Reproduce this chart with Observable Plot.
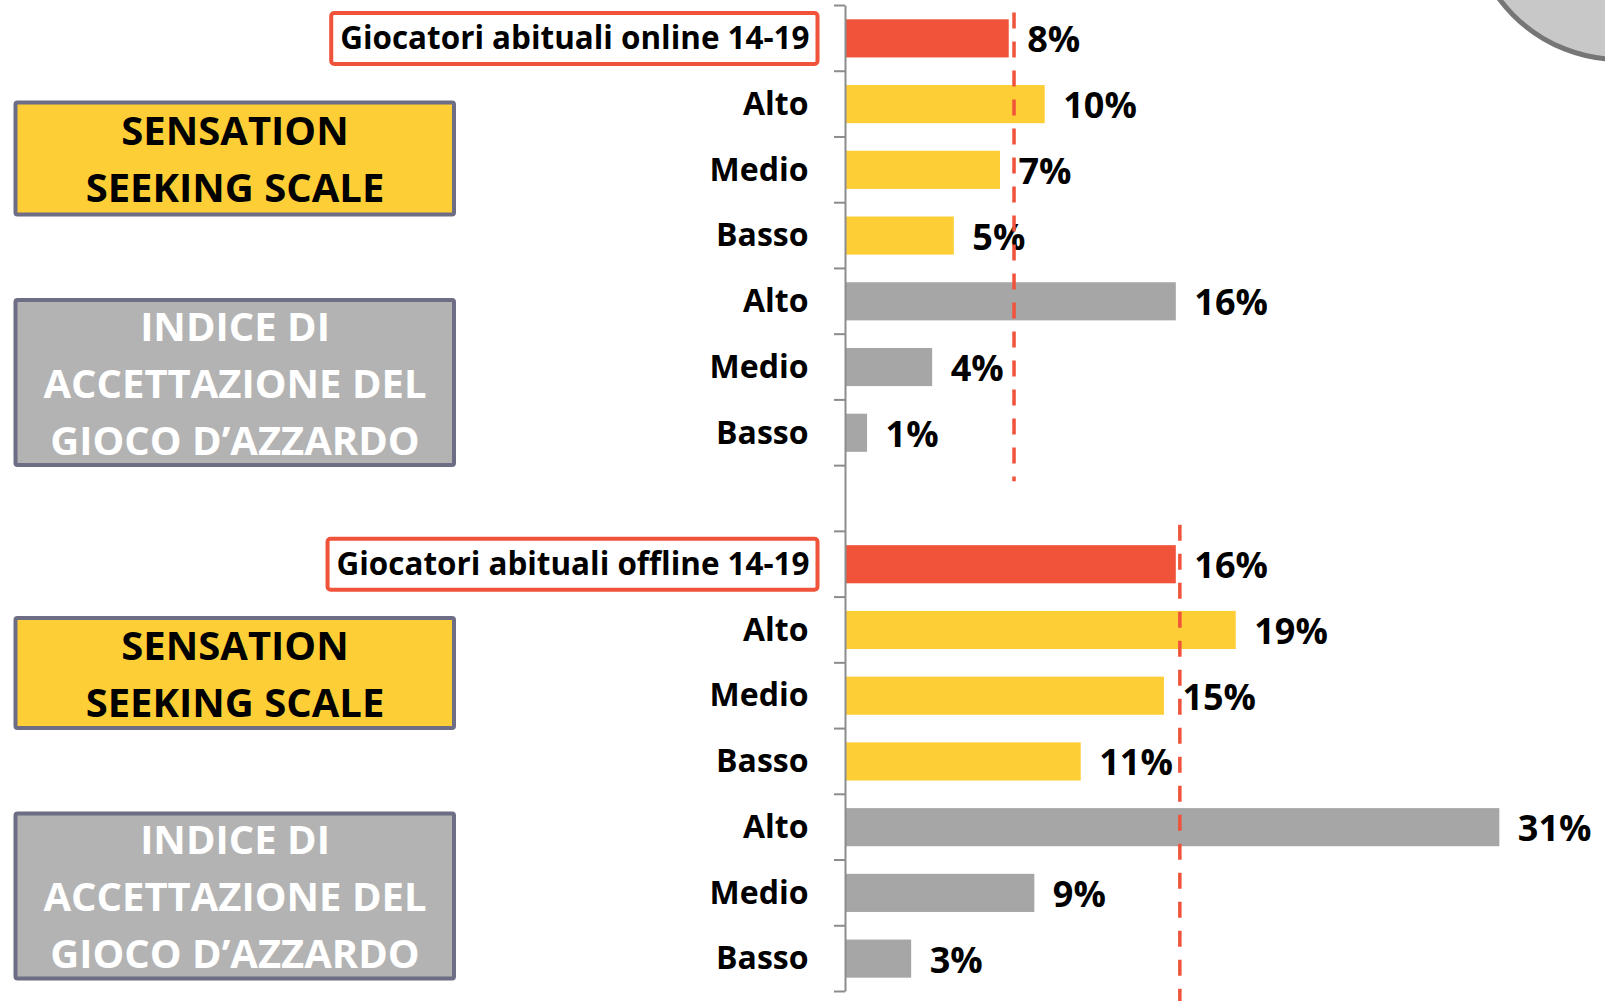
<!DOCTYPE html>
<html><head><meta charset="utf-8">
<script src="https://cdn.jsdelivr.net/npm/d3@7"></script>
<script src="https://cdn.jsdelivr.net/npm/@observablehq/plot@0.6"></script>
<style>
html,body{margin:0;padding:0;background:#fff;overflow:hidden;}
#wrap{position:relative;width:1605px;height:1001px;}
#chart svg{display:block;}
#deco{position:absolute;left:1467px;top:-244px;width:306px;height:306px;border-radius:50%;background:#c8c8c8;border:5px solid #767676;box-sizing:border-box;}
</style></head><body><div id="wrap"><div id="chart"></div><div id="deco"></div></div>
<script>
// ---- data ----
const levels = ["Alto", "Medio", "Basso"];
const groupTitles = ["Giocatori abituali online 14-19", "Giocatori abituali offline 14-19"];
const sensationLines = ["SENSATION", "SEEKING SCALE"];
const acceptanceLines = ["INDICE DI", "ACCETTAZIONE DEL", "GIOCO D’AZZARDO"];
const totals = [7.87, 15.9];
const sensation = [[9.6, 7.45, 5.23], [18.78, 15.33, 11.33]];
const acceptance = [[15.9, 4.19, 1.06], [31.45, 9.1, 3.18]];
const referenceLines = [8.1, 16.07];

// ---- styles ----
const RED = "#f0533a", YELLOW = "#fece36", GRAY = "#a6a6a6";
const BOX_GRAY = "#b3b3b3", BOX_BORDER = "#6d6d86", AXIS = "#8c8c8c";
const FONT = "'Open Sans', 'Noto Sans', sans-serif";

// ---- build rows ----
const rows = [];
const domain = [];
[0, 1].forEach(g => {
  if (g === 1) domain.push("gap");
  const push = r => { rows.push(r); domain.push(r.id); };
  push({id: `g${g}-tot`, group: g, label: groupTitles[g], value: totals[g], kind: "total"});
  levels.forEach((l, i) => push({id: `g${g}-ss-${i}`, group: g, label: l, value: sensation[g][i], kind: "ss"}));
  levels.forEach((l, i) => push({id: `g${g}-ia-${i}`, group: g, label: l, value: acceptance[g][i], kind: "ia"}));
});
const levelRows = rows.filter(r => r.kind !== "total");
const titleRows = rows.filter(r => r.kind === "total");
const refs = referenceLines.map((v, g) => ({x: v, y1: `g${g}-tot`, y2: `g${g}-ia-2`}));

// boundary ticks on the category axis, computed from the band scale
function boundaryTicks(index, {y}, values, {marginLeft}) {
  const dom = y.domain(), step = y.step(), bw = y.bandwidth(), pad = (step - bw) / 2;
  const edges = dom.map(d => y(d) - pad).concat([y(dom[dom.length - 1]) + bw + pad]);
  const g = d3.create("svg:g");
  g.selectAll("line").data(edges).join("line")
    .attr("x1", marginLeft - 11).attr("x2", marginLeft)
    .attr("y1", d => d).attr("y2", d => d)
    .attr("stroke", AXIS).attr("stroke-width", 2);
  return g.node();
}

// group boxes on the left, placed relative to the band scale
function groupBox(ids, lines, {fill, color, h, shift}) {
  return (index, {y}) => {
    const step = y.step(), bw = y.bandwidth(), pad = (step - bw) / 2;
    const top = y(ids[0]) - pad, bottom = y(ids[ids.length - 1]) + bw + pad;
    const cy = (top + bottom) / 2 + shift;
    const g = d3.create("svg:g");
    g.append("rect").attr("x", 15.5).attr("y", cy - h / 2).attr("width", 438.5).attr("height", h)
      .attr("fill", fill).attr("stroke", BOX_BORDER).attr("stroke-width", 4).attr("rx", 2);
    lines.forEach((t, i) => {
      g.append("text").attr("x", 235).attr("y", cy + (i - (lines.length - 1) / 2) * 57 + 1)
        .attr("dy", "0.35em").attr("text-anchor", "middle")
        .attr("font-family", FONT).attr("font-weight", "bold").attr("font-size", 40)
        .attr("fill", color).text(t);
    });
    return g.node();
  };
}
const ids = (g, k) => [0, 1, 2].map(i => `g${g}-${k}-${i}`);

const chart = Plot.plot({
  width: 1605,
  height: 1001,
  marginTop: 5.5,
  marginBottom: 9.5,
  marginLeft: 845,
  marginRight: 11,
  style: {fontFamily: FONT, background: "white"},
  x: {domain: [0, 36], axis: null},
  y: {domain, axis: null, paddingInner: 0.42, paddingOuter: 0.21, round: false},
  color: {domain: ["total", "ss", "ia"], range: [RED, YELLOW, GRAY]},
  marks: [
    groupBox(ids(0, "ss"), sensationLines, {fill: YELLOW, color: "#000", h: 112, shift: -11.3}),
    groupBox(ids(0, "ia"), acceptanceLines, {fill: BOX_GRAY, color: "#fff", h: 165, shift: 15.5}),
    groupBox(ids(1, "ss"), sensationLines, {fill: YELLOW, color: "#000", h: 110, shift: -22.7}),
    groupBox(ids(1, "ia"), acceptanceLines, {fill: BOX_GRAY, color: "#fff", h: 165, shift: 3.2}),
    Plot.barX(rows, {x: "value", y: "id", fill: "kind"}),
    Plot.ruleX([0], {stroke: AXIS, strokeWidth: 2}),
    boundaryTicks,
    Plot.text(levelRows, {y: "id", text: "label", frameAnchor: "left", textAnchor: "end", dx: -37,
      fontSize: 32, fontWeight: "bold", fill: "#000"}),
    Plot.text(titleRows, {y: "id", text: "label", frameAnchor: "left", textAnchor: "end", dx: -36,
      fontSize: 31.4, fontWeight: "bold", fill: "#000"}),
    Plot.text(rows, {x: "value", y: "id", text: d => `${Math.round(d.value)}%`, dx: 18, dy: 2,
      textAnchor: "start", fontSize: 36, fontWeight: "bold", fill: "#000"}),
    Plot.ruleX(refs.slice(0, 1), {x: "x", y1: "y1", y2: "y2", stroke: RED, strokeWidth: 3.5,
      strokeDasharray: "16,13", insetTop: -6.7, insetBottom: -29.5}),
    Plot.ruleX(refs.slice(1, 2), {x: "x", y1: "y1", y2: "y2", stroke: RED, strokeWidth: 3.5,
      strokeDasharray: "16,13", insetTop: -20.5, insetBottom: -23.7})
  ]
});
document.getElementById("chart").append(chart);

// red frames around the group titles
chart.querySelectorAll("text").forEach(t => {
  if (!groupTitles.includes(t.textContent)) return;
  const b = t.getBBox();
  const cy = b.y + b.height / 2 + 2;
  const r = document.createElementNS("http://www.w3.org/2000/svg", "rect");
  r.setAttribute("x", b.x - 9);
  r.setAttribute("width", b.width + 17);
  r.setAttribute("y", cy - 25.5);
  r.setAttribute("height", 51);
  r.setAttribute("rx", 3);
  r.setAttribute("fill", "none");
  r.setAttribute("stroke", RED);
  r.setAttribute("stroke-width", 4);
  const tr = t.getAttribute("transform");
  if (tr) r.setAttribute("transform", tr);
  t.parentNode.insertBefore(r, t);
});
</script>
</body></html>
